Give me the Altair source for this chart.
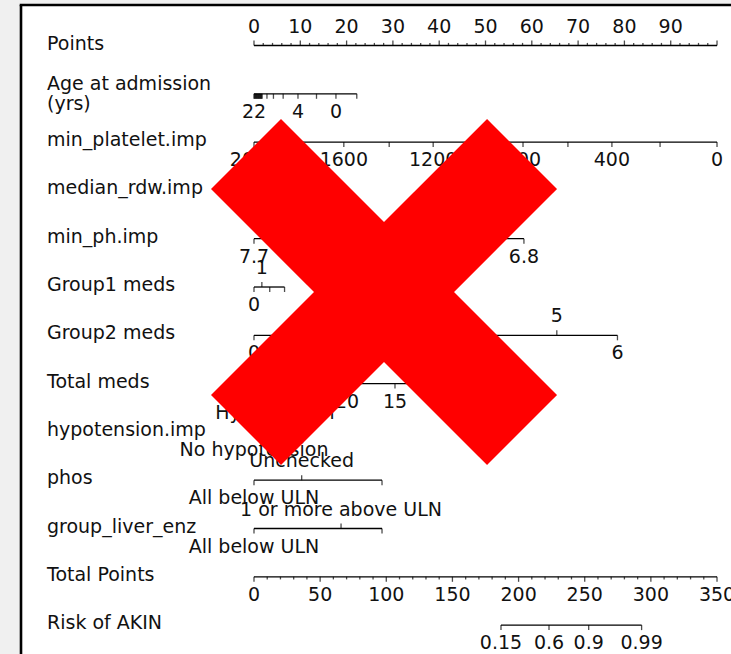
import altair as alt
import pandas as pd

FONT = "DejaVu Sans"
FS = 19
INK = "#111111"

# ---------------- nomogram rows (0 = top) ----------------
row_names = ["Points", "Age at admission", "min_platelet.imp", "median_rdw.imp",
             "min_ph.imp", "Group1 meds", "Group2 meds", "Total meds",
             "hypotension.imp", "phos", "group_liver_enz", "Total Points",
             "Risk of AKIN"]
age_unit_line = "(yrs)"

# Points axis (0-100)
points_major = list(range(0, 101, 10))
points_minor = [v for v in range(0, 101, 2) if v % 10]
points_labels = list(range(0, 91, 10))

# Age at admission (yrs) -> points; older ages crowd together at the left
age_tick_pts = [0, 0.12, 0.25, 0.37, 0.5, 0.62, 0.75, 0.87, 1.0, 1.12, 1.25,
                1.37, 1.5, 1.62, 1.75, 2.8, 4.2, 6.3, 9.5, 13.5, 17.7, 22.2]
age_label_text = ["22", "4", "0"]
age_label_pts = [0, 9.5, 17.7]

# min_platelet.imp -> points
platelet_values = [2000, 1800, 1600, 1400, 1200, 1000, 800, 600, 400, 200, 0]
platelet_pts = [0, 9.7, 19.4, 29.2, 38.7, 48.4, 58.1, 67.8, 77.3, 87.7, 100]
platelet_labelled = [2000, 1600, 1200, 800, 400, 0]

# median_rdw.imp -> points
rdw_pts = [0, 5, 10, 15]

# min_ph.imp -> points
ph_values = [7.7, 7.6, 7.5, 7.4, 7.3, 7.2, 7.1, 7.0, 6.9, 6.8]
ph_pts = [0, 6.5, 13.0, 19.4, 25.9, 32.4, 38.9, 45.3, 51.8, 58.3]
ph_labelled = [7.7, 6.8]

# Group1 meds -> points
g1_values = [0, 1, 2, 3]
g1_pts = [0, 1.7, 3.4, 6.6]
g1_label_side = ["below", "above", "none", "none"]

# Group2 meds -> points
g2_values = [0, 1, 2, 3, 4, 5, 6]
g2_pts = [0, 13.1, 26.2, 39.3, 52.4, 65.4, 78.5]

# Total meds -> points
tm_values = [30, 25, 20, 15, 10, 5, 0]
tm_pts = [0, 9.9, 20.1, 30.45, 40.8, 51.1, 61.4]
tm_labelled = [20, 15, 10, 5, 0]

# hypotension.imp -> points
hypo_levels = ["No hypotension", "Hypotension"]
hypo_pts = [0, 4.5]

# phos -> points
phos_levels = ["All below ULN", "Unchecked", ""]
phos_pts = [0, 10.3, 27.65]

# group_liver_enz -> points
liver_levels = ["All below ULN", "1 or more above ULN", ""]
liver_pts = [0, 18.8, 27.65]

# Total Points (0-350) and risk
total_major = list(range(0, 351, 50))
total_minor = [v for v in range(0, 351, 10) if v % 50]
risk_values = ["0.15", "0.6", "0.9", "0.99"]
risk_total = [186.7, 223, 253, 293]

TOTAL_TO_POINTS = 100 / 350

# diagonal bars of the red cross, in (points, row) units
cross_x = [-1.73, 57.89]
cross_y = [2.247, 7.961]

# ---------------- build tables ----------------
lines, ticks, labels = [], [], []


def add_line(row, x0, x1):
    lines.append({"row": row, "x": x0, "x2": x1})


def add_tick(row, x, side="down", kind="major"):
    ticks.append({"row": row, "x": x, "side": side, "kind": kind})


def add_label(row, x, text, side="below"):
    labels.append({"row": row, "x": x, "text": str(text), "side": side})


# Points
add_line(0, 0, 100)
for v in points_major:
    add_tick(0, v, "up", "major")
for v in points_minor:
    add_tick(0, v, "up", "minor")
for v in points_labels:
    add_label(0, v, v, "above")

# Age
add_line(1, age_tick_pts[0], age_tick_pts[-1])
for p in age_tick_pts:
    add_tick(1, p)
for t, p in zip(age_label_text, age_label_pts):
    add_label(1, p, t)

# Platelets
add_line(2, platelet_pts[0], platelet_pts[-1])
for v, p in zip(platelet_values, platelet_pts):
    add_tick(2, p)
    if v in platelet_labelled:
        add_label(2, p, v)

# RDW
add_line(3, rdw_pts[0], rdw_pts[-1])
for p in rdw_pts:
    add_tick(3, p)

# pH
add_line(4, ph_pts[0], ph_pts[-1])
for v, p in zip(ph_values, ph_pts):
    add_tick(4, p)
    if v in ph_labelled:
        add_label(4, p, v)

# Group1 meds
add_line(5, g1_pts[0], g1_pts[-1])
for v, p, s in zip(g1_values, g1_pts, g1_label_side):
    add_tick(5, p, "up" if s == "above" else "down")
    if s != "none":
        add_label(5, p, v, s)

# Group2 meds: labels alternate below / above
add_line(6, g2_pts[0], g2_pts[-1])
for v, p in zip(g2_values, g2_pts):
    side = "above" if v % 2 else "below"
    add_tick(6, p, "up" if side == "above" else "down")
    add_label(6, p, v, side)

# Total meds
add_line(7, tm_pts[0], tm_pts[-1])
for v, p in zip(tm_values, tm_pts):
    add_tick(7, p)
    if v in tm_labelled:
        add_label(7, p, v)

# hypotension
add_line(8, hypo_pts[0], hypo_pts[-1])
add_tick(8, hypo_pts[0])
add_label(8, hypo_pts[0], hypo_levels[0])
add_tick(8, hypo_pts[1], "up")
add_label(8, hypo_pts[1], hypo_levels[1], "above")

# phos
add_line(9, phos_pts[0], phos_pts[-1])
for i, (t, p) in enumerate(zip(phos_levels, phos_pts)):
    side = "above" if i == 1 else "below"
    add_tick(9, p, "up" if side == "above" else "down")
    if t:
        add_label(9, p, t, side)

# liver enzymes
add_line(10, liver_pts[0], liver_pts[-1])
for i, (t, p) in enumerate(zip(liver_levels, liver_pts)):
    side = "above" if i == 1 else "below"
    add_tick(10, p, "up" if side == "above" else "down")
    if t:
        add_label(10, p, t, side)

# Total points
add_line(11, 0, 100)
for v in total_major:
    add_tick(11, v * TOTAL_TO_POINTS)
    add_label(11, v * TOTAL_TO_POINTS, v)
for v in total_minor:
    add_tick(11, v * TOTAL_TO_POINTS, "down", "minor")

# Risk
add_line(12, risk_total[0] * TOTAL_TO_POINTS, risk_total[-1] * TOTAL_TO_POINTS)
for t, v in zip(risk_values, risk_total):
    add_tick(12, v * TOTAL_TO_POINTS)
    add_label(12, v * TOTAL_TO_POINTS, t)

lines_df = pd.DataFrame(lines)
ticks_df = pd.DataFrame(ticks)
labels_df = pd.DataFrame(labels)
names_df = pd.DataFrame({"row": list(range(len(row_names))), "name": row_names})
unit_df = pd.DataFrame({"row": [1], "name": [age_unit_line]})
cross_df = pd.DataFrame({
    "x": [cross_x[0], cross_x[0]], "x2": [cross_x[1], cross_x[1]],
    "y": [cross_y[0], cross_y[1]], "y2": [cross_y[1], cross_y[0]],
})

# ---------------- scales ----------------
W, H = 710, 649
X = alt.Scale(domain=[-50.32, 103.02], nice=False, zero=False)
Y = alt.Scale(domain=[-0.8385, 12.598], nice=False, zero=False, reverse=True)


def xq(f="x"):
    return alt.X(f"{f}:Q", scale=X, axis=None)


def yq(f="row"):
    return alt.Y(f"{f}:Q", scale=Y, axis=None)


base_lines = alt.Chart(lines_df).mark_rule(color="black", strokeWidth=1.3).encode(
    x=xq(), x2="x2:Q", y=yq())


def tick_layer(side, kind):
    size = 5 if kind == "major" else 2.6
    off = size / 2 if side == "down" else -size / 2
    return alt.Chart(ticks_df).transform_filter(
        (alt.datum.side == side) & (alt.datum.kind == kind)
    ).mark_tick(orient="vertical", color="black", thickness=1.3, size=size,
                yOffset=off).encode(x=xq(), y=yq())


tick_layers = [tick_layer(s, k) for s in ("down", "up") for k in ("major", "minor")]


def label_layer(side):
    return alt.Chart(labels_df).transform_filter(alt.datum.side == side).mark_text(
        font=FONT, fontSize=FS, color=INK, align="center", baseline="alphabetic",
        dy=24 if side == "below" else -13,
    ).encode(x=xq(), y=yq(), text="text:N")


names = alt.Chart(names_df).transform_filter(alt.datum.row != 1).mark_text(
    font=FONT, fontSize=FS, color=INK, align="left", baseline="alphabetic", dy=4
).encode(x=alt.value(26), y=yq(), text="name:N")

# the age row name is set on two lines
age_name = alt.Chart(names_df).transform_filter(alt.datum.row == 1).mark_text(
    font=FONT, fontSize=FS, color=INK, align="left", baseline="alphabetic", dy=-4
).encode(x=alt.value(26), y=yq(), text="name:N")
age_unit = alt.Chart(unit_df).mark_text(
    font=FONT, fontSize=FS, color=INK, align="left", baseline="alphabetic", dy=16
).encode(x=alt.value(26), y=yq(), text="name:N")

cross = alt.Chart(cross_df).mark_rule(color="#ff0000", strokeWidth=99, strokeCap="butt").encode(
    x=xq(), x2="x2:Q", y=alt.Y("y:Q", scale=Y, axis=None), y2="y2:Q")

frame_top = alt.Chart(names_df.head(1)).mark_rule(color="black", strokeWidth=2.6).encode(
    x=alt.value(-1.3), x2=alt.value(W), y=alt.value(0))
frame_left = alt.Chart(names_df.head(1)).mark_rule(color="black", strokeWidth=2.6).encode(
    x=alt.value(0), y=alt.value(0), y2=alt.value(H))

chart = alt.layer(
    base_lines, *tick_layers, label_layer("below"), label_layer("above"),
    names, age_name, age_unit, cross, frame_top, frame_left,
).properties(
    width=W, height=H,
    autosize=alt.AutoSizeParams(type="none"),
    padding={"left": 21, "top": 5, "right": 0, "bottom": 0},
    background="#f0f0f0",
).configure_view(fill="white", strokeWidth=0)

chart.save("out.html", embed_options={"renderer": "svg", "actions": False})
